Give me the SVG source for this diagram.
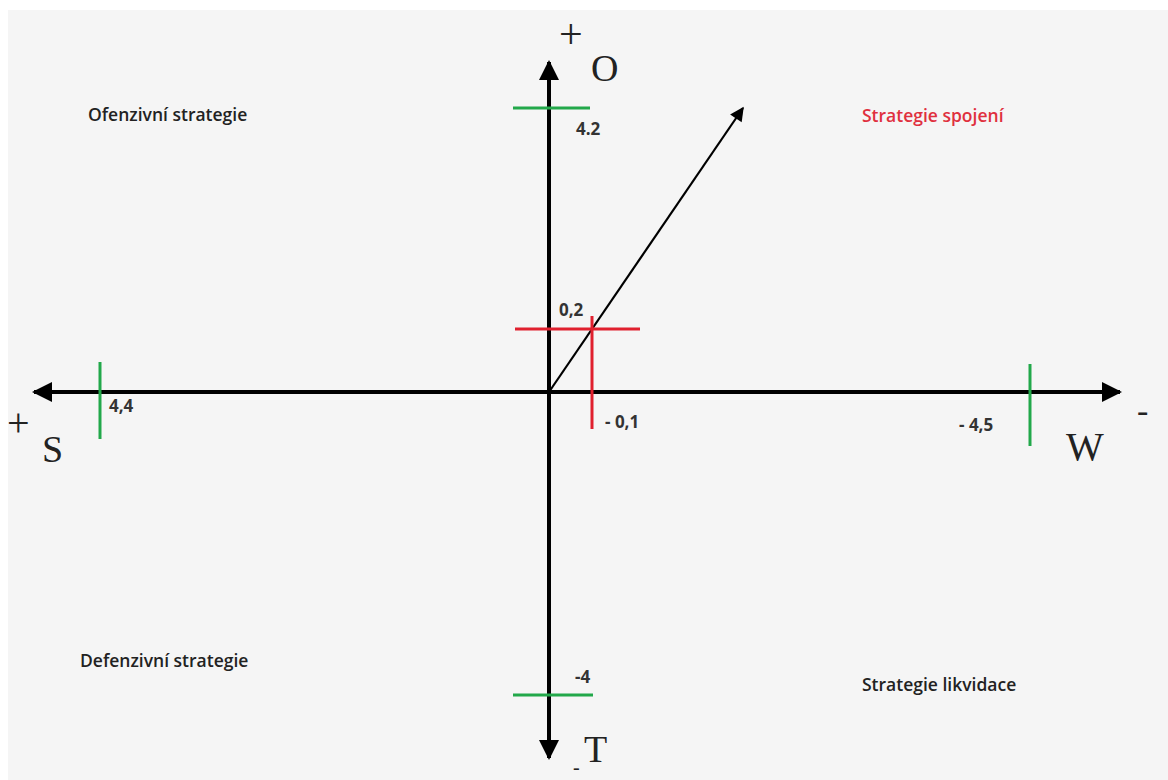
<svg xmlns="http://www.w3.org/2000/svg" width="1168" height="780" viewBox="0 0 1168 780">
<defs>
<style>
.axis{stroke:#000;stroke-width:4;fill:none}
.vec{stroke:#000;stroke-width:2.2;fill:none}
.green{stroke:#22a84a;stroke-width:3;fill:none}
.red{stroke:#e0202e;stroke-width:3;fill:none}
.num{font-family:"Open Sans","Liberation Sans",sans-serif;font-weight:bold;font-size:17px;fill:#333}
.lab{font-family:"Open Sans","Liberation Sans",sans-serif;font-weight:600;font-size:17.5px;fill:#222}
.big{font-family:"Liberation Serif","DejaVu Serif",serif;fill:#222}
</style>
<marker id="ah" viewBox="0 0 10 10" refX="9" refY="5" markerWidth="16" markerHeight="14" markerUnits="userSpaceOnUse" orient="auto">
<path d="M0,0 L10,5 L0,10 z" fill="#000"/>
</marker>
<marker id="ahb" viewBox="0 0 10 10" refX="9" refY="5" markerWidth="5" markerHeight="5" orient="auto">
<path d="M0,0 L10,5 L0,10 z" fill="#000"/>
</marker>
</defs>
<rect x="0" y="0" width="1168" height="780" fill="#ffffff"/>
<rect x="8" y="10" width="1160" height="770" fill="#f5f5f5"/>
<g id="connectors">
<line class="axis" x1="549" y1="392" x2="549" y2="62" marker-end="url(#ahb)"/>
<line class="axis" x1="549" y1="392" x2="549" y2="758" marker-end="url(#ahb)"/>
<line class="axis" x1="549" y1="392" x2="34" y2="392" marker-end="url(#ahb)"/>
<line class="axis" x1="549" y1="392" x2="1120" y2="392" marker-end="url(#ahb)"/>
<line class="vec" x1="549" y1="392" x2="743" y2="108" marker-end="url(#ah)"/>
</g>
<g id="ticks">
<line class="green" x1="513" y1="108" x2="590" y2="108"/>
<line class="green" x1="513" y1="695" x2="593" y2="695"/>
<line class="green" x1="100" y1="362" x2="100" y2="439"/>
<line class="green" x1="1030" y1="364" x2="1030" y2="446"/>
<line class="red" x1="515" y1="329" x2="640" y2="329"/>
<line class="red" x1="592" y1="316" x2="592" y2="429"/>
</g>
<g id="axis-labels">
<text class="big" x="559" y="48" font-size="42">+</text>
<text class="big" x="591" y="81" font-size="38">O</text>
<text class="big" x="7" y="436" font-size="40">+</text>
<text class="big" x="42" y="462" font-size="38">S</text>
<text class="big" x="1066" y="460" font-size="40">W</text>
<text class="big" x="1137" y="422" font-size="34">-</text>
<text class="big" x="573" y="774" font-size="20">-</text>
<text class="big" x="584" y="762" font-size="38">T</text>
</g>
<g id="values">
<text class="num" x="576" y="135">4.2</text>
<text class="num" x="559" y="316">0,2</text>
<text class="num" x="605" y="428">- 0,1</text>
<text class="num" x="109" y="412">4,4</text>
<text class="num" x="959" y="431">- 4,5</text>
<text class="num" x="575" y="683">-4</text>
</g>
<g id="q1"><text class="lab" x="88" y="121">Ofenzivní strategie</text></g>
<g id="q2"><text class="lab" x="862" y="122" style="fill:#e0303e">Strategie spojení</text></g>
<g id="q3"><text class="lab" x="80" y="667">Defenzivní strategie</text></g>
<g id="q4"><text class="lab" x="862" y="691">Strategie likvidace</text></g>
</svg>
